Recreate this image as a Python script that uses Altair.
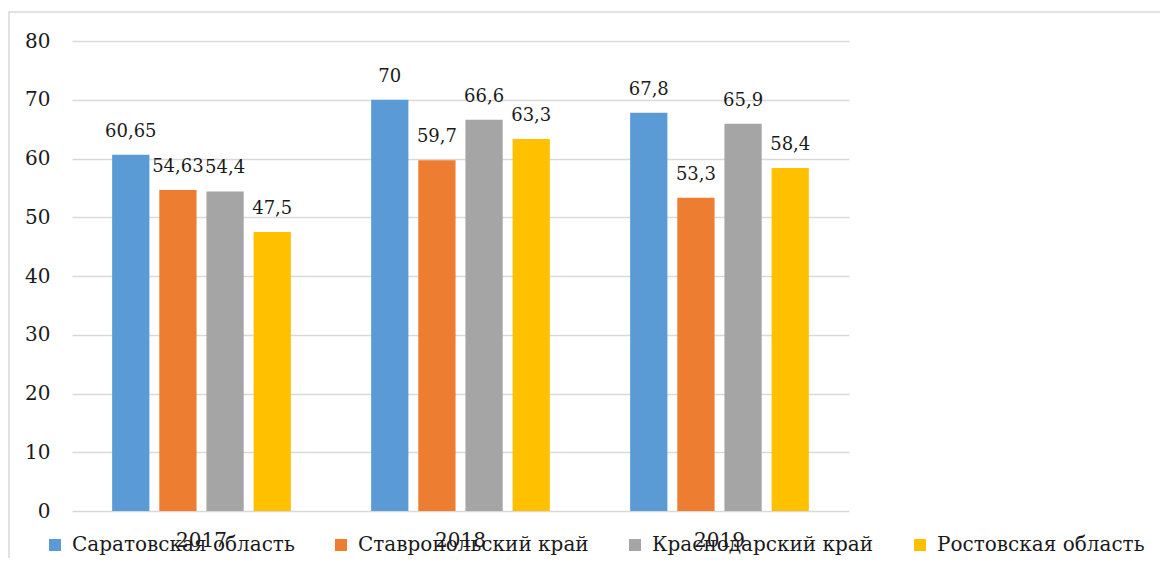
import altair as alt
import pandas as pd

years = ["2017", "2018", "2019"]
series = ["Саратовская область", "Ставропольский край", "Краснодарский край", "Ростовская область"]
colors = ["#5B9BD5", "#ED7D31", "#A5A5A5", "#FFC000"]
vals_saratov = [60.65, 70, 67.8]
vals_stavropol = [54.63, 59.7, 53.3]
vals_krasnodar = [54.4, 66.6, 65.9]
vals_rostov = [47.5, 63.3, 58.4]

rows = []
for s, vals in zip(series, [vals_saratov, vals_stavropol, vals_krasnodar, vals_rostov]):
    for y, v in zip(years, vals):
        rows.append({"year": y, "series": s, "value": v,
                     "label": f"{v:g}".replace(".", ",")})
df = pd.DataFrame(rows)

FONT = "DejaVu Serif"
TXT = "#1a1a1a"

x = alt.X("year:N", sort=years, title=None,
          scale=alt.Scale(paddingInner=0.31, paddingOuter=0.155),
          axis=alt.Axis(labelAngle=0, labelFont=FONT, labelFontSize=20, labelColor=TXT,
                        labelPadding=19, ticks=False, domain=False, grid=False))
xo = alt.XOffset("series:N", sort=series, scale=alt.Scale(paddingInner=0.21, paddingOuter=0))
y = alt.Y("value:Q", title=None,
          scale=alt.Scale(domain=[0, 80]),
          axis=alt.Axis(values=list(range(0, 81, 10)), labelFont=FONT, labelFontSize=20,
                        labelColor=TXT, labelPadding=22, ticks=False, domain=False,
                        gridColor="#D9D9D9", gridWidth=1.5))
color = alt.Color("series:N", sort=series,
                  scale=alt.Scale(domain=series, range=colors),
                  legend=alt.Legend(title=None, orient="none", direction="horizontal",
                                    legendX=-27, legendY=494, columns=4, columnPadding=36,
                                    symbolType="square", symbolSize=144, symbolStrokeWidth=0,
                                    labelFont=FONT, labelFontSize=20, labelColor=TXT,
                                    labelOffset=7, labelLimit=400, padding=0))

base = alt.Chart(df)
bars = base.mark_bar().encode(x=x, xOffset=xo, y=y, color=color)
text = base.mark_text(baseline="alphabetic", dy=-18, font=FONT, fontSize=18, color=TXT).encode(
    x=x, xOffset=xo, y=y, text="label:N")

frame = alt.Chart(pd.DataFrame({"a": [0]})).mark_rect(fill=None, stroke="#D9D9D9", strokeWidth=1.5).encode(
    x=alt.value(-63), x2=alt.value(1120), y=alt.value(-29), y2=alt.value(560))

chart = alt.layer(frame, bars, text).properties(
    width=777, height=470,
    autosize=alt.AutoSizeParams(type="none"),
    padding={"left": 64, "top": 33, "right": 311, "bottom": 47},
).configure_view(stroke=None)

chart.save("out.html", embed_options={"renderer": "svg", "actions": False})
